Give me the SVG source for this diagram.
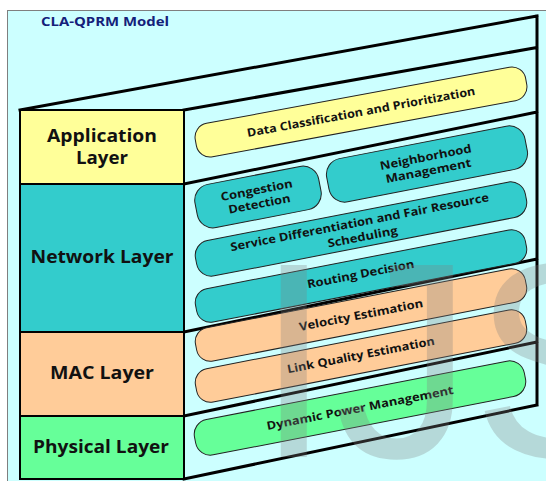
<svg xmlns="http://www.w3.org/2000/svg" width="546" height="481" viewBox="0 0 546 481">
<style>
.lbl{font-family:"Open Sans","Noto Sans","Liberation Sans",sans-serif;font-weight:700;fill:#111;text-anchor:middle}
.big{font-size:17px}
.pt{font-size:11.5px}
.box{stroke:#000;stroke-width:2}
.pill{stroke:#222;stroke-width:1}
.app{fill:#ffff99}.net{fill:#33cccc}.mac{fill:#ffcc99}.phy{fill:#66ff99}
.edge{stroke:#000;stroke-width:3;fill:none;stroke-linecap:square}
</style>
<rect x="7.5" y="10.5" width="545" height="475" fill="#ccffff" stroke="#7f7f7f" stroke-width="1"/>
<text x="105" y="26" font-family="Open Sans,Noto Sans,Liberation Sans,sans-serif" font-weight="700" font-size="13" fill="#14207a" text-anchor="middle" textLength="128" lengthAdjust="spacingAndGlyphs">CLA-QPRM Model</text>

<g id="connectors">
<path class="edge" d="M20 110 L537 16 M184 110 L537 47.5 M184 184 L537 112 M184 332 L537 259 M184 416 L537 342 M184 479 L537 405 M537 16 L537 405"/>
</g>

<g id="application-layer">
<rect class="box app" x="20" y="110" width="164" height="74"/>
<text class="lbl big" x="102" y="142" textLength="110" lengthAdjust="spacingAndGlyphs">Application</text>
<text class="lbl big" x="102" y="163.5" textLength="52" lengthAdjust="spacingAndGlyphs">Layer</text>
</g>
<g id="network-layer">
<rect class="box net" x="20" y="184" width="164" height="148"/>
<text class="lbl big" x="102" y="262.5" textLength="143" lengthAdjust="spacingAndGlyphs">Network Layer</text>
</g>
<g id="mac-layer">
<rect class="box mac" x="20" y="332" width="164" height="84"/>
<text class="lbl big" x="102" y="379" textLength="104" lengthAdjust="spacingAndGlyphs">MAC Layer</text>
</g>
<g id="physical-layer">
<rect class="box phy" x="20" y="416" width="164" height="63"/>
<text class="lbl big" x="101" y="452.5" textLength="136" lengthAdjust="spacingAndGlyphs">Physical Layer</text>
</g>

<g id="data-classification" transform="translate(361 112) rotate(-10.5)">
<rect class="pill app" x="-168" y="-17" width="336" height="34" rx="14"/>
<text class="lbl pt" x="0" y="4" textLength="232" lengthAdjust="spacingAndGlyphs">Data Classification and Prioritization</text>
</g>
<g id="congestion-detection" transform="translate(258 197) rotate(-11)">
<rect class="pill net" x="-63" y="-22" width="126" height="44" rx="16"/>
<text class="lbl pt" x="0" y="-3" textLength="73" lengthAdjust="spacingAndGlyphs">Congestion</text>
<text class="lbl pt" x="0" y="11" textLength="63" lengthAdjust="spacingAndGlyphs">Detection</text>
</g>
<g id="neighborhood-management" transform="translate(427 164) rotate(-11)">
<rect class="pill net" x="-101" y="-22" width="202" height="44" rx="16"/>
<text class="lbl pt" x="0" y="-3" textLength="93" lengthAdjust="spacingAndGlyphs">Neighborhood</text>
<text class="lbl pt" x="0" y="11" textLength="87" lengthAdjust="spacingAndGlyphs">Management</text>
</g>
<g id="service-differentiation" transform="translate(361 229) rotate(-11)">
<rect class="pill net" x="-168" y="-18" width="336" height="36" rx="15"/>
<text class="lbl pt" x="0" y="-3" textLength="263" lengthAdjust="spacingAndGlyphs">Service Differentiation and Fair Resource</text>
<text class="lbl pt" x="0" y="12" textLength="71" lengthAdjust="spacingAndGlyphs">Scheduling</text>
</g>
<g id="routing-decision" transform="translate(361 276) rotate(-11)">
<rect class="pill net" x="-168" y="-17" width="336" height="34" rx="14"/>
<text class="lbl pt" x="0" y="2" textLength="109" lengthAdjust="spacingAndGlyphs">Routing Decision</text>
</g>
<g id="velocity-estimation" transform="translate(361 315) rotate(-11)">
<rect class="pill mac" x="-168" y="-17" width="336" height="34" rx="14"/>
<text class="lbl pt" x="0" y="4" textLength="126" lengthAdjust="spacingAndGlyphs">Velocity Estimation</text>
</g>
<g id="link-quality-estimation" transform="translate(361 356) rotate(-11)">
<rect class="pill mac" x="-168" y="-17" width="336" height="34" rx="14"/>
<text class="lbl pt" x="0" y="3" textLength="150" lengthAdjust="spacingAndGlyphs">Link Quality Estimation</text>
</g>
<g id="dynamic-power-management" transform="translate(360 408) rotate(-11)">
<rect class="pill phy" x="-168" y="-18" width="336" height="36" rx="15"/>
<text class="lbl pt" x="0" y="4" textLength="190" lengthAdjust="spacingAndGlyphs">Dynamic Power Management</text>
</g>

<text x="255 334 472" y="457" font-family="Liberation Sans,Arial,sans-serif" font-size="279" fill="#808080" fill-opacity="0.3">IJS</text>
</svg>
